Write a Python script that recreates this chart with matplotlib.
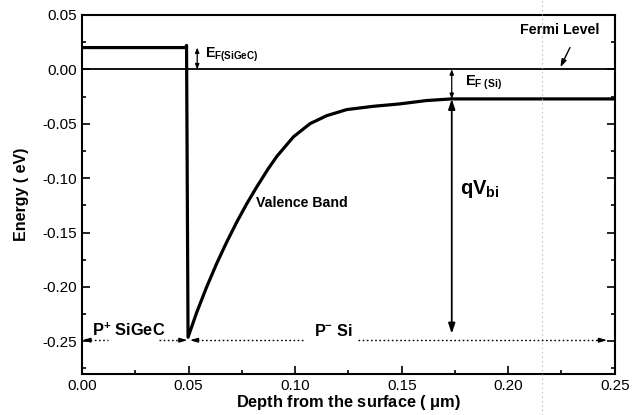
import matplotlib
matplotlib.use("Agg")
import matplotlib.pyplot as plt
from matplotlib.ticker import MultipleLocator

plt.rcParams['font.family'] = ['Liberation Sans', 'DejaVu Sans']
plt.rcParams['mathtext.fontset'] = 'custom'
plt.rcParams['mathtext.rm'] = 'Liberation Sans'
plt.rcParams['mathtext.bf'] = 'Liberation Sans:bold'
plt.rcParams['mathtext.it'] = 'Liberation Sans:italic'

# Valence band profile (depth in um, energy in eV)
depth = [0.0, 0.0485, 0.049, 0.0497, 0.0538, 0.0584, 0.0631, 0.0678, 0.0725,
         0.0772, 0.0818, 0.0873, 0.0914, 0.0992, 0.107, 0.1148, 0.1242, 0.1366,
         0.149, 0.1616, 0.1733, 0.25]
energy = [0.020, 0.020, 0.022, -0.2463, -0.2233, -0.2003, -0.1787, -0.1590, -0.1407,
          -0.1238, -0.1086, -0.0915, -0.0800, -0.0620, -0.0499, -0.0426, -0.037, -0.034,
          -0.0318, -0.0287, -0.0272, -0.0272]

fermi_level = 0.0
ef_sigec_top = 0.020
ef_si_level = -0.0272
qvbi_bottom = -0.243
interface = 0.05
x_marker = 0.1735

xticks = [0.00, 0.05, 0.10, 0.15, 0.20, 0.25]
yticks = [0.05, 0.00, -0.05, -0.10, -0.15, -0.20, -0.25]

fig = plt.figure(figsize=(6.37, 4.15), dpi=100)
ax = fig.add_axes([0.129, 0.099, 0.836, 0.865])

ax.plot(depth, energy, color='black', lw=2.3, solid_joinstyle='round')
ax.axhline(fermi_level, color='black', lw=1.3)

ax.set_xlim(0, 0.25)
ax.set_ylim(-0.28, 0.05)
ax.set_xticks(xticks)
ax.set_yticks(yticks)
ax.set_xticklabels([f"{v:.2f}" for v in xticks])
ax.set_yticklabels([f"{v:.2f}" for v in yticks])
ax.xaxis.set_minor_locator(MultipleLocator(0.025))
ax.yaxis.set_minor_locator(MultipleLocator(0.025))
ax.tick_params(which='both', direction='in', left=True, right=True, bottom=True, top=False,
               labelsize=11, width=1.2)
ax.tick_params(which='major', length=6)
ax.tick_params(which='minor', length=3)
for s in ax.spines.values():
    s.set_linewidth(1.5)

ax.set_xlabel('Depth from the surface ( $\\mathbf{\\mu}$m)', fontsize=11.8, fontweight='bold', labelpad=0)
ax.set_ylabel('Energy ( eV)', fontsize=11.5, fontweight='bold', labelpad=10)

# scan artifact dotted line
fig.add_artist(plt.Line2D([0.851, 0.851], [0.0, 1.0], transform=fig.transFigure,
                          color='#aaaaaa', lw=0.8, ls=(0, (1, 3))))

# E_F(SiGeC)
ax.annotate('', xy=(0.054, ef_sigec_top), xytext=(0.054, fermi_level),
            arrowprops=dict(arrowstyle='<|-|>,head_length=0.3,head_width=0.12', color='black', lw=0.9,
                            shrinkA=0, shrinkB=0))
ax.text(0.0575, 0.0135, r'$\mathbf{E}_{\mathbf{F(SiGeC)}}$', fontsize=10.2, va='center')

# E_F(Si)
ax.annotate('', xy=(x_marker, fermi_level), xytext=(x_marker, ef_si_level),
            arrowprops=dict(arrowstyle='<|-|>,head_length=0.3,head_width=0.12', color='black', lw=0.9,
                            shrinkA=0, shrinkB=0))
ax.text(0.1795, -0.0125, r'$\mathbf{E}_{\mathbf{F\ (Si)}}$', fontsize=10.5, va='center')

# qVbi
ax.annotate('', xy=(x_marker, ef_si_level), xytext=(x_marker, qvbi_bottom),
            arrowprops=dict(arrowstyle='<|-|>,head_length=0.6,head_width=0.2', color='black', lw=1.3,
                            shrinkA=0, shrinkB=0))
ax.text(0.1775, -0.110, r'$\mathbf{qV}_{\mathbf{bi}}$', fontsize=14.5, va='center')

# Fermi level label
ax.text(0.2055, 0.0365, 'Fermi Level', fontsize=10.3, fontweight='bold', va='center')
ax.annotate('', xy=(0.2245, 0.002), xytext=(0.229, 0.020),
            arrowprops=dict(arrowstyle='-|>,head_length=0.45,head_width=0.15', color='black', lw=1.0,
                            shrinkA=0, shrinkB=0))

# Valence band label
ax.text(0.0815, -0.1225, 'Valence Band', fontsize=10.2, fontweight='bold', va='center')

# Region arrows
y_arr = -0.249
dot = (0, (1.2, 1.8))
ax.plot([0.002, 0.012], [y_arr, y_arr], color='black', lw=1.0, ls=dot)
ax.plot([0.036, 0.048], [y_arr, y_arr], color='black', lw=1.0, ls=dot)
ax.plot([0.052, 0.1045], [y_arr, y_arr], color='black', lw=1.0, ls=dot)
ax.plot([0.1295, 0.244], [y_arr, y_arr], color='black', lw=1.0, ls=dot)
hp = dict(arrowstyle='-|>,head_length=0.45,head_width=0.13', color='black', lw=1.0, shrinkA=0, shrinkB=0)
ax.annotate('', xy=(0.0, y_arr), xytext=(0.004, y_arr), arrowprops=hp)
ax.annotate('', xy=(interface - 0.0005, y_arr), xytext=(0.046, y_arr), arrowprops=hp)
ax.annotate('', xy=(interface + 0.0005, y_arr), xytext=(0.054, y_arr), arrowprops=hp)
ax.annotate('', xy=(0.2465, y_arr), xytext=(0.242, y_arr), arrowprops=hp)
ax.text(0.0045, -0.2395, r'$\mathbf{P^{+}\ SiGeC}$', fontsize=11.8, va='center')
ax.text(0.109, -0.2405, r'$\mathbf{P^{-}\ Si}$', fontsize=11.7, va='center')

fig.savefig('out.png', dpi=100)
